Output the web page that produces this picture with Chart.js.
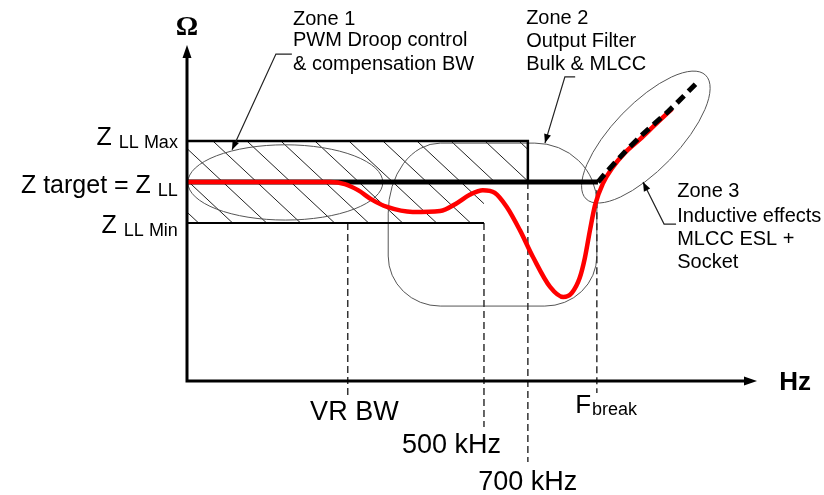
<!DOCTYPE html>
<html>
<head>
<meta charset="utf-8">
<script src="https://cdn.jsdelivr.net/npm/chart.js@4.4.0/dist/chart.umd.min.js"></script>
<style>
  html, body { margin: 0; padding: 0; background: #fff; }
  canvas { display: block; }
</style>
</head>
<body>
<canvas id="impedance" width="824" height="495"></canvas>
<script>
// sketch units: x 0..100 = frequency (log), y 0..100 = impedance
const zTarget = 59.2;
const zMax = 71.4;
const zMin = 47.0;

// vertical markers on the frequency axis
const markerLabels = ['VR BW', '500 kHz', '700 kHz', 'F'];
const markerX = [28.2, 52.1, 59.8, 71.9];
const markerTop = [zMin, zMin, zTarget, 56.8];
const markerBottom = [-4.2, -13.7, -24.1, -3.6];
const markerLabelX = [21.6, 37.7, 51.1, 68.1];
const markerLabelY = [-11.6, -21.4, -32.4, -9.5];

// measured impedance (red)
const curveX = [0, 25.1, 27.7, 30.0, 32.5, 35.1, 39.6, 44.4, 47.4, 49.6, 51.9, 54.0, 56.1, 58.4,
  60.7, 63.7, 66.0, 67.5, 68.9, 69.8, 70.7, 71.6, 73.0, 74.6, 76.8, 79.5, 82.1, 85.1];
const curveY = [59.2, 59.2, 58.6, 56.8, 53.9, 51.8, 50.3, 50.6, 53.0, 55.4, 56.8, 56.0, 51.8, 44.9,
  36.9, 28.0, 25.0, 26.2, 30.7, 36.6, 44.9, 52.4, 58.9, 63.4, 67.9, 72.0, 76.2, 81.0];

// target line and inductive asymptote above F break
const targetX = [0, 72.1];
const inductX = [72.1, 73.3, 76.0, 79.8, 84.7, 89.6];
const inductY = [59.2, 61.6, 66.7, 73.2, 80.7, 89.0];

const FONT = '"Liberation Sans", Arial, sans-serif';

const zones = [
  { lines: ['Zone 1', 'PWM Droop control', '& compensation BW'], x: 18.6, y: [106.0, 99.7, 92.6],
    leader: [[18.4, 97.3], [15.6, 97.3], [7.9, 68.8]] },
  { lines: ['Zone 2', 'Output Filter', 'Bulk & MLCC'], x: 59.5, y: [106.3, 99.4, 92.6],
    leader: [[68.1, 90.5], [66.3, 90.5], [62.8, 70.8]] },
  { lines: ['Zone 3', 'Inductive effects', 'MLCC ESL +', 'Socket'], x: 86.0, y: [54.8, 47.3, 40.5, 33.6],
    leader: [[85.8, 46.7], [83.7, 46.7], [80.0, 59.2]] }
];

function xy(xs, ys) {
  return xs.map((x, i) => ({ x: x, y: ys[i] }));
}

function arrowHead(ctx, x1, y1, x2, y2, len, half) {
  const a = Math.atan2(y2 - y1, x2 - x1);
  ctx.beginPath();
  ctx.moveTo(x2, y2);
  ctx.lineTo(x2 - len * Math.cos(a) + half * Math.sin(a), y2 - len * Math.sin(a) - half * Math.cos(a));
  ctx.lineTo(x2 - len * Math.cos(a) - half * Math.sin(a), y2 - len * Math.sin(a) + half * Math.cos(a));
  ctx.closePath();
  ctx.fill();
}

const sketch = {
  id: 'sketch',
  beforeDatasetsDraw(chart) {
    const ctx = chart.ctx;
    const X = v => chart.scales.x.getPixelForValue(v);
    const Y = v => chart.scales.y.getPixelForValue(v);

    // hatched tolerance band
    ctx.save();
    ctx.beginPath();
    ctx.moveTo(X(0), Y(zMax));
    ctx.lineTo(X(markerX[2]), Y(zMax));
    ctx.lineTo(X(markerX[2]), Y(zTarget));
    ctx.lineTo(X(markerX[1]), Y(zTarget));
    ctx.lineTo(X(markerX[1]), Y(zMin));
    ctx.lineTo(X(0), Y(zMin));
    ctx.closePath();
    ctx.clip();
    const top = Y(zMax), bot = Y(zMin);
    ctx.strokeStyle = '#222';
    ctx.lineWidth = 1;
    for (let x0 = X(0) + 26 - 34 * 4; x0 < X(markerX[2]) + 10; x0 += 34) {
      ctx.beginPath();
      ctx.moveTo(x0, top);
      ctx.lineTo(x0 + (bot - top) * 1.07, bot);
      ctx.stroke();
    }
    ctx.restore();

    // zone outlines
    ctx.save();
    ctx.strokeStyle = '#555';
    ctx.lineWidth = 1;
    ctx.beginPath();
    ctx.ellipse(X(17.25), Y(59.1), X(17.1) - X(0), Y(0) - Y(11.2), 0, 0, Math.PI * 2);
    ctx.stroke();

    const l = X(35.3), r = X(71.9), t = Y(70.8), b = Y(22.3);
    ctx.beginPath();
    ctx.moveTo(l + 52, t);
    ctx.lineTo(r - 62, t);
    ctx.ellipse(r - 62, t + 60, 62, 60, 0, -Math.PI / 2, 0);
    ctx.lineTo(r, b - 50);
    ctx.ellipse(r - 52, b - 50, 52, 50, 0, 0, Math.PI / 2);
    ctx.lineTo(l + 52, b);
    ctx.ellipse(l + 52, b - 50, 52, 50, 0, Math.PI / 2, Math.PI);
    ctx.lineTo(l, t + 70);
    ctx.ellipse(l + 52, t + 70, 52, 70, 0, Math.PI, Math.PI * 1.5);
    ctx.stroke();

    ctx.beginPath();
    ctx.ellipse(X(80.5), Y(72.6), 86, 33, -46 * Math.PI / 180, 0, Math.PI * 2);
    ctx.stroke();
    ctx.restore();
  },
  afterDatasetsDraw(chart) {
    const ctx = chart.ctx;
    const X = v => chart.scales.x.getPixelForValue(v);
    const Y = v => chart.scales.y.getPixelForValue(v);
    const area = chart.chartArea;

    ctx.save();
    // axes with arrows
    ctx.strokeStyle = '#000';
    ctx.fillStyle = '#000';
    ctx.lineWidth = 3;
    ctx.beginPath();
    ctx.moveTo(area.left, area.top + 10);
    ctx.lineTo(area.left, area.bottom);
    ctx.lineTo(area.right - 10, area.bottom);
    ctx.stroke();
    arrowHead(ctx, area.left, area.bottom, area.left, area.top, 13, 4.5);
    arrowHead(ctx, area.left, area.bottom, area.right, area.bottom, 13, 4.5);

    ctx.textBaseline = 'alphabetic';
    ctx.textAlign = 'center';
    ctx.font = 'bold 28px "Liberation Serif", serif';
    ctx.fillText('Ω', X(0), Y(103.0));
    ctx.textAlign = 'left';
    ctx.font = 'bold 26px ' + FONT;
    ctx.fillText('Hz', X(103.9), Y(-2.7));

    // impedance level labels
    const levels = [['Z', 'LL Max', zMax, 70.2], ['Z target = Z', 'LL', zTarget, 56.0], ['Z', 'LL Min', zMin, 44.0]];
    levels.forEach(([main, sub, lv, base]) => {
      const right = X(-1.6);
      ctx.font = '18px ' + FONT;
      ctx.textAlign = 'right';
      ctx.fillText(sub, right, Y(base) + 3);
      const w = ctx.measureText(sub).width;
      ctx.font = '25px ' + FONT;
      ctx.fillText(main, right - w - 7, Y(base));
    });

    // marker labels
    markerLabels.forEach((lab, i) => {
      ctx.textAlign = 'left';
      ctx.font = (i === 3 ? '26px ' : '27px ') + FONT;
      ctx.fillText(lab, X(markerLabelX[i]), Y(markerLabelY[i]));
      if (i === 3) {
        const w = ctx.measureText(lab).width;
        ctx.font = '18px ' + FONT;
        ctx.fillText('break', X(markerLabelX[i]) + w + 1, Y(markerLabelY[i]) + 2);
      }
    });

    // zone notes with leaders
    zones.forEach(z => {
      ctx.font = '20px ' + FONT;
      ctx.textAlign = 'left';
      z.lines.forEach((s, k) => ctx.fillText(s, X(z.x), Y(z.y[k])));
      const p = z.leader.map(([a, b]) => [X(a), Y(b)]);
      ctx.strokeStyle = '#222';
      ctx.lineWidth = 1.2;
      ctx.beginPath();
      ctx.moveTo(p[0][0], p[0][1]);
      ctx.lineTo(p[1][0], p[1][1]);
      ctx.lineTo(p[2][0], p[2][1]);
      ctx.stroke();
      ctx.fillStyle = '#000';
      arrowHead(ctx, p[1][0], p[1][1], p[2][0], p[2][1], 9, 3.5);
    });
    ctx.restore();
  }
};

const markerSets = markerX.map((x, i) => ({
  data: [{ x: x, y: markerTop[i] }, { x: x, y: markerBottom[i] }],
  borderColor: '#333',
  borderWidth: 1.5,
  borderDash: [7, 4],
  order: 5
}));

new Chart(document.getElementById('impedance'), {
  type: 'scatter',
  data: {
    datasets: [
      {
        label: 'Inductive',
        data: xy(inductX, inductY),
        borderColor: '#000',
        borderWidth: 5,
        borderDash: [10, 6],
        tension: 0.3,
        order: 0
      },
      {
        label: 'Impedance',
        data: xy(curveX, curveY),
        borderColor: '#ff0000',
        borderWidth: 4.5,
        cubicInterpolationMode: 'monotone',
        order: 1
      },
      {
        label: 'Z target',
        data: xy(targetX, [zTarget, zTarget]),
        borderColor: '#000',
        borderWidth: 5,
        order: 2
      },
      {
        label: 'ZLL Max',
        data: [{ x: 0, y: zMax }, { x: markerX[2], y: zMax }, { x: markerX[2], y: zTarget }],
        borderColor: '#000',
        borderWidth: 2.5,
        order: 3
      },
      {
        label: 'ZLL Min',
        data: [{ x: 0, y: zMin }, { x: markerX[1], y: zMin }],
        borderColor: '#000',
        borderWidth: 2,
        order: 3
      },
      ...markerSets
    ]
  },
  options: {
    responsive: false,
    animation: false,
    showLine: true,
    clip: false,
    elements: { point: { radius: 0, hoverRadius: 0 } },
    layout: { padding: { left: 187, right: 67, top: 45, bottom: 114 } },
    scales: {
      x: { type: 'linear', min: 0, max: 100, display: false },
      y: { type: 'linear', min: 0, max: 100, display: false }
    },
    plugins: {
      legend: { display: false },
      tooltip: { enabled: false }
    }
  },
  plugins: [sketch]
});
</script>
</body>
</html>
